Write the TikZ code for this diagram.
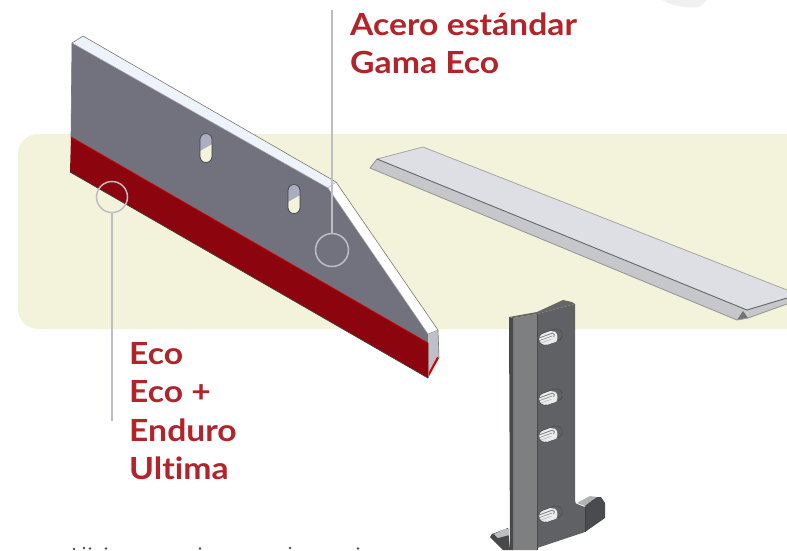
\documentclass[tikz,border=0pt]{standalone}
\usepackage{fontspec}
\setmainfont[FakeStretch=1.105,Ligatures=NoCommon]{Lato}
\usetikzlibrary{calc}
\definecolor{panel}{HTML}{F3F3DC}
\definecolor{brand}{HTML}{B2232A}
\definecolor{steel}{HTML}{71727E}
\definecolor{rim}{HTML}{EEF3FB}
\definecolor{blood}{HTML}{8C040E}
\definecolor{callout}{HTML}{BDBEC4}
\definecolor{bluegrey}{HTML}{ABADC2}
\definecolor{slab}{HTML}{DEDFE4}
\definecolor{bevel}{HTML}{C6C7CB}
\definecolor{iron}{HTML}{606164}
\definecolor{ironl}{HTML}{7E7F81}
\definecolor{irond}{HTML}{48494B}
\tikzset{
 lab/.style={anchor=base west,text=brand,font=\fontsize{30.5}{31}\selectfont\bfseries,inner sep=0pt},
 ring/.style={circle,draw=callout,line width=1.5pt,inner sep=0pt},
 lead/.style={draw=callout,line width=1.2pt}
}
\newcommand{\hole}[2]{%
  \begin{scope}
    \clip (#1-6,#2-8.5) arc[start angle=180,end angle=360,radius=6] -- (#1+6,#2+8.5) arc[start angle=0,end angle=180,radius=6] -- cycle;
    \fill[panel] (#1-7,#2-16) rectangle (#1+7,#2+16);
    \fill[bluegrey] (#1-7,#2+3.5) -- (#1+7,#2-4.5) -- (#1+7,#2-16) -- (#1-7,#2-16) -- cycle;
  \end{scope}
  \draw[steel!55!black,line width=.7pt] (#1-6,#2-8.5) arc[start angle=180,end angle=360,radius=6] -- (#1+6,#2+8.5) arc[start angle=0,end angle=180,radius=6] -- cycle;
}
\newcommand{\slotpath}{(-6,-6.2) -- (6,-6.2) arc[start angle=-90,end angle=90,radius=6.2] -- (-6,6.2) arc[start angle=90,end angle=270,radius=6.2] -- cycle}
\newcommand{\slot}[2]{%
  \begin{scope}[shift={(#1,#2)},rotate=20]
    \fill[white!92!black] \slotpath;
    \begin{scope}
      \clip \slotpath;
      \fill[iron] (3,-7) rectangle (14,7);
      \fill[white!92!black] (3,-5) .. controls (8,-4) and (9,2) .. (3,7) -- (0,7) -- (0,-5) -- cycle;
      \draw[ironl,line width=.8pt] (-12,-3) -- (3,-3) .. controls (5,-2) and (5,0) .. (3,1);
      \draw[ironl!80!white,line width=.7pt] (-12,-.4) -- (2,-.4);
      \draw[ironl!50!white,line width=.7pt] (-12,2.4) -- (0,2.4);
    \end{scope}
    \draw[irond,line width=.7pt] (-6,6.2) arc[start angle=90,end angle=270,radius=6.2] -- (6,-6.2) arc[start angle=-90,end angle=90,radius=6.2];
  \end{scope}
}
\begin{document}
\begin{tikzpicture}[x=1pt,y=-1pt]
\useasboundingbox (0,0) rectangle (787,550);
\fill[white] (0,0) rectangle (787,550);
% panel
\fill[panel] (787,134) -- (38,134) arc[start angle=270,end angle=180,radius=20] -- (18,309) arc[start angle=180,end angle=90,radius=20] -- (787,329) -- cycle;
% smudge
\fill[black!6] (662,0) .. controls (670,5) and (688,9) .. (698,7) .. controls (702,5) and (705,2) .. (707,0) -- cycle;
% flat blade
\fill[bevel] (370,168) -- (377,159) -- (747,310) -- (748,318) -- (737,320) -- cycle;
\fill[slab] (377,159) -- (423,147) -- (787,290) -- (787,298) -- (747,310) -- cycle;
\fill[bevel] (747,310) -- (787,298) -- (787,304) -- (748,318) -- cycle;
\fill[black!55] (737,320) -- (743,311) -- (748,318) -- cycle;
\draw[black!35,line width=.8pt] (377,159) -- (423,147) -- (787,290);
\draw[black!60,line width=.9pt] (377,159) -- (747,310) -- (787,298);
\draw[black!40,line width=.9pt] (377,159) -- (370,168) -- (737,320) -- (748,318) -- (787,304);
% main blade
\fill[rim] (72,43) -- (83,36) -- (336,182) -- (328,188) -- cycle;
\fill[white] (336,182) -- (438,330) -- (428,334) -- (328,188) -- cycle;
\fill[steel] (72,43) -- (328,188) -- (428,334) -- (428,343) -- (71,137) -- cycle;
\fill[blood] (71,137) -- (428,343) -- (428,378) -- (70,172) -- cycle;
\fill[bevel!70!bluegrey] (428,334) -- (438,330) -- (439,358) -- (428,378) -- cycle;
\fill[red!85!black] (428,378) -- (439,358) -- (437,357) -- (429,372) -- cycle;
\draw[black!50!panel,line width=.6pt] (72,43) -- (83,36) -- (336,182) -- (438,330) -- (439,358);
\draw[black!35,line width=.5pt] (72,43) -- (328,188) -- (336,182);
\draw[black!35,line width=.5pt] (328,188) -- (428,334) -- (438,330);
\draw[black!55,line width=.6pt] (72,43) -- (71,137);
\draw[red!80!black,line width=.8pt] (71,137) -- (428,343);
\draw[black!75,line width=.7pt] (70,172) -- (428,378);
\draw[black!50,line width=.5pt] (428,343) -- (428,378);
\hole{206}{148}
\hole{294}{199}
% bracket
\fill[irond] (490,537) -- (492,534) -- (508,528) -- (510,550) -- (503,550) -- cycle;
\fill[ironl!50!white] (494,534) -- (505,529) -- (509,529) -- (509,535) -- (498,538) -- cycle;
\fill[iron] (537,314) -- (575,304) -- (575,500) .. controls (575,503) and (576,504) .. (577,504) -- (585,507) -- (585,532) -- (537,548) -- (537,550) -- cycle;
\fill[ironl!60!white] (577,503) -- (590,496) -- (597,497) -- (590,502) -- (585,506) -- cycle;
\fill[irond!90!iron] (585,506) -- (590,502) -- (597,497) -- (601,497) -- (605,503) -- (605,518) -- (585,532) -- cycle;
\fill[ironl] (513,318) -- (537,314) -- (537,550) -- (513,550) -- cycle;
\fill[irond] (509,317) -- (513,318) -- (513,550) -- (510,550) -- cycle;
\fill[black!60] (509,317) -- (537,312) -- (563,300) -- (572,302) -- (575,304) -- (537,314) -- (513,318) -- cycle;
\draw[irond,line width=.5pt] (537,314) -- (537,550);
\draw[black!75,line width=.5pt] (585,507) -- (585,532);
\slot{550.5}{337}
\slot{550.5}{397}
\slot{550.5}{434}
\slot{550.5}{514}
% callouts
\node[ring,minimum size=31pt] (r1) at (112,197) {};
\node[ring,minimum size=33pt] (r2) at (332,250) {};
\coordinate (e1) at (112,421);
\coordinate (e2) at (332,10);
\draw[lead] (r1) -- (e1);
\draw[lead] (r2) -- (e2);
% text
\node[lab] (t1) at (350,35) {Acero estándar};
\node[lab] (t2) at (350,73) {Gama Eco};
\node[lab] (t3) at (129,364) {Eco};
\node[lab] (t4) at (129,402) {Eco +};
\node[lab] (t5) at (129,441) {Enduro};
\node[lab] (t6) at (129,479) {Ultima};
% clipped line of text at the edge
\foreach \x/\y in {74/549,84/548,90/548.5,106/548.5,200/548.5,290/548,358/548.5}
  \fill[black!70] (\x,\y) circle[radius=1.4];
\end{tikzpicture}
\end{document}
